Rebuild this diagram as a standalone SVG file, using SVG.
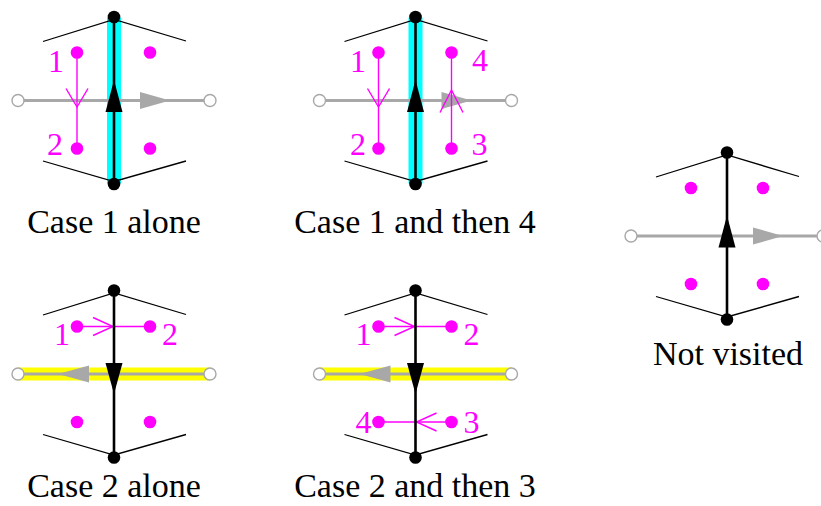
<svg xmlns="http://www.w3.org/2000/svg" width="821" height="506" viewBox="0 0 821 506">
<style>
.bg{fill:#ffffff}
.chev{fill:none;stroke:#000;stroke-width:1.3}
.gline{stroke:#a8a8a8;stroke-width:3;fill:none}
.garr{fill:#a8a8a8;stroke:none}
.ocirc{fill:#fff;stroke:#a8a8a8;stroke-width:1.4}
.mline{stroke:#ff00ff;stroke-width:1.4;fill:none}
.marr{stroke:#ff00ff;stroke-width:1.4;fill:none;stroke-linejoin:miter}
.mdot{fill:#ff00ff}
.bline{stroke:#000;stroke-width:2.6;fill:none}
.barr{fill:#000}
.bdot{fill:#000}
.lab{font-family:"Liberation Serif","Times New Roman",serif;font-size:32px;fill:#ff00ff;text-anchor:middle}
.cap{font-family:"Liberation Serif","Times New Roman",serif;font-size:34px;fill:#000;text-anchor:middle}
</style>
<defs>
<polyline id="chevs" points="-71,-59 0,-81 72,-59.5"/>
<polyline id="chevs2" points="-71,60.5 0,81 72,60.5"/>
</defs>
<rect class="bg" x="0" y="0" width="821" height="506"/>

<!-- Panel 1 -->
<g id="panel1" transform="translate(114,100.5)">
  <rect x="-7" y="-83" width="14" height="166" fill="#00ffff"/>
  <use href="#chevs" class="chev"/>
  <use href="#chevs2" class="chev"/>
  <g id="p1-connectors">
    <line class="gline" x1="-96" y1="0" x2="96" y2="0"/>
    <polygon class="garr" points="56,0 26,-8.5 26,8.5"/>
    <line class="mline" x1="-37" y1="-48" x2="-37" y2="48"/>
    <polyline class="marr" points="-48,-12 -37,6.5 -26,-12"/>
    <line class="bline" x1="0" y1="83.5" x2="0" y2="-83.5"/>
    <polygon class="barr" points="0,-20.5 -8.5,11.5 8.5,11.5"/>
  </g>
  <circle class="bdot" cx="0" cy="-83.5" r="6.3"/>
  <circle class="bdot" cx="0" cy="83.5" r="6.3"/>
  <circle class="mdot" cx="-37" cy="-48" r="6.3"/>
  <circle class="mdot" cx="36" cy="-48" r="6.3"/>
  <circle class="mdot" cx="-37" cy="48" r="6.3"/>
  <circle class="mdot" cx="36" cy="48" r="6.3"/>
  <circle class="ocirc" cx="-96" cy="0" r="6"/>
  <circle class="ocirc" cx="96" cy="0" r="6"/>
  <text class="lab" x="-58" y="-28.5">1</text>
  <text class="lab" x="-59" y="54.5">2</text>
</g>

<!-- Panel 2 -->
<g id="panel2" transform="translate(415.5,100.5)">
  <rect x="-7" y="-83" width="14" height="166" fill="#00ffff"/>
  <use href="#chevs" class="chev"/>
  <use href="#chevs2" class="chev"/>
  <g id="p2-connectors">
    <line class="gline" x1="-96" y1="0" x2="96" y2="0"/>
    <polygon class="garr" points="56,0 26,-8.5 26,8.5"/>
    <line class="mline" x1="-37" y1="-48" x2="-37" y2="48"/>
    <polyline class="marr" points="-48,-12 -37,6.5 -26,-12"/>
    <line class="mline" x1="36" y1="48" x2="36" y2="-48"/>
    <polyline class="marr" points="24.5,12 36,-10.5 47.5,12"/>
    <line class="bline" x1="0" y1="83.5" x2="0" y2="-83.5"/>
    <polygon class="barr" points="0,-20.5 -8.5,11.5 8.5,11.5"/>
  </g>
  <circle class="bdot" cx="0" cy="-83.5" r="6.3"/>
  <circle class="bdot" cx="0" cy="83.5" r="6.3"/>
  <circle class="mdot" cx="-37" cy="-48" r="6.3"/>
  <circle class="mdot" cx="36" cy="-48" r="6.3"/>
  <circle class="mdot" cx="-37" cy="48" r="6.3"/>
  <circle class="mdot" cx="36" cy="48" r="6.3"/>
  <circle class="ocirc" cx="-96" cy="0" r="6"/>
  <circle class="ocirc" cx="96" cy="0" r="6"/>
  <text class="lab" x="-57.5" y="-28.5">1</text>
  <text class="lab" x="-57.5" y="54.5">2</text>
  <text class="lab" x="64.5" y="-29.5">4</text>
  <text class="lab" x="64" y="54.5">3</text>
</g>

<!-- Panel 3 -->
<g id="panel3" transform="translate(114,374)">
  <rect x="-96" y="-6.5" width="192" height="13" fill="#ffff00"/>
  <use href="#chevs" class="chev"/>
  <use href="#chevs2" class="chev"/>
  <g id="p3-connectors">
    <line class="gline" x1="-96" y1="0" x2="96" y2="0"/>
    <polygon class="garr" points="-56,0 -25,-8.5 -25,8.5"/>
    <line class="mline" x1="-37" y1="-47.5" x2="36" y2="-47.5"/>
    <polyline class="marr" points="-21,-56.5 -1,-47.5 -21,-38.5"/>
    <line class="bline" x1="0" y1="-83.5" x2="0" y2="83.5"/>
    <polygon class="barr" points="0,20 -8.5,-11 8.5,-11"/>
  </g>
  <circle class="bdot" cx="0" cy="-83.5" r="6.3"/>
  <circle class="bdot" cx="0" cy="83.5" r="6.3"/>
  <circle class="mdot" cx="-37" cy="-47.5" r="6.3"/>
  <circle class="mdot" cx="36" cy="-47.5" r="6.3"/>
  <circle class="mdot" cx="-37" cy="48" r="6.3"/>
  <circle class="mdot" cx="36" cy="48" r="6.3"/>
  <circle class="ocirc" cx="-96" cy="0" r="6"/>
  <circle class="ocirc" cx="96" cy="0" r="6"/>
  <text class="lab" x="-52" y="-29">1</text>
  <text class="lab" x="56" y="-29">2</text>
</g>

<!-- Panel 4 -->
<g id="panel4" transform="translate(415.5,374)">
  <rect x="-96" y="-6.5" width="192" height="13" fill="#ffff00"/>
  <use href="#chevs" class="chev"/>
  <use href="#chevs2" class="chev"/>
  <g id="p4-connectors">
    <line class="gline" x1="-96" y1="0" x2="96" y2="0"/>
    <polygon class="garr" points="-56,0 -25,-8.5 -25,8.5"/>
    <line class="mline" x1="-37" y1="-47.5" x2="36" y2="-47.5"/>
    <polyline class="marr" points="-21,-56.5 -1,-47.5 -21,-38.5"/>
    <line class="mline" x1="36" y1="48" x2="-37" y2="48"/>
    <polyline class="marr" points="21,39 1,48 21,57"/>
    <line class="bline" x1="0" y1="-83.5" x2="0" y2="83.5"/>
    <polygon class="barr" points="0,20 -8.5,-11 8.5,-11"/>
  </g>
  <circle class="bdot" cx="0" cy="-83.5" r="6.3"/>
  <circle class="bdot" cx="0" cy="83.5" r="6.3"/>
  <circle class="mdot" cx="-37" cy="-47.5" r="6.3"/>
  <circle class="mdot" cx="36" cy="-47.5" r="6.3"/>
  <circle class="mdot" cx="-37" cy="48" r="6.3"/>
  <circle class="mdot" cx="36" cy="48" r="6.3"/>
  <circle class="ocirc" cx="-96" cy="0" r="6"/>
  <circle class="ocirc" cx="96" cy="0" r="6"/>
  <text class="lab" x="-52" y="-29">1</text>
  <text class="lab" x="56" y="-29">2</text>
  <text class="lab" x="-52" y="59">4</text>
  <text class="lab" x="56" y="59">3</text>
</g>

<!-- Panel 5 -->
<g id="panel5" transform="translate(727,236)">
  <use href="#chevs" class="chev"/>
  <use href="#chevs2" class="chev"/>
  <g id="p5-connectors">
    <line class="gline" x1="-96" y1="0" x2="96" y2="0"/>
    <polygon class="garr" points="56,0 26,-8.5 26,8.5"/>
    <line class="bline" x1="0" y1="83.5" x2="0" y2="-83.5"/>
    <polygon class="barr" points="0,-20.5 -8.5,11.5 8.5,11.5"/>
  </g>
  <circle class="bdot" cx="0" cy="-83.5" r="6.3"/>
  <circle class="bdot" cx="0" cy="83.5" r="6.3"/>
  <circle class="mdot" cx="-36" cy="-48" r="6.3"/>
  <circle class="mdot" cx="36" cy="-48" r="6.3"/>
  <circle class="mdot" cx="-36" cy="48" r="6.3"/>
  <circle class="mdot" cx="36" cy="48" r="6.3"/>
  <circle class="ocirc" cx="-96" cy="0" r="6"/>
  <circle class="ocirc" cx="96" cy="0" r="6"/>
</g>

<g id="captions">
  <text class="cap" x="114" y="233">Case 1 alone</text>
  <text class="cap" x="415" y="233">Case 1 and then 4</text>
  <text class="cap" x="728" y="365">Not visited</text>
  <text class="cap" x="114" y="497">Case 2 alone</text>
  <text class="cap" x="415" y="497">Case 2 and then 3</text>
</g>
</svg>
